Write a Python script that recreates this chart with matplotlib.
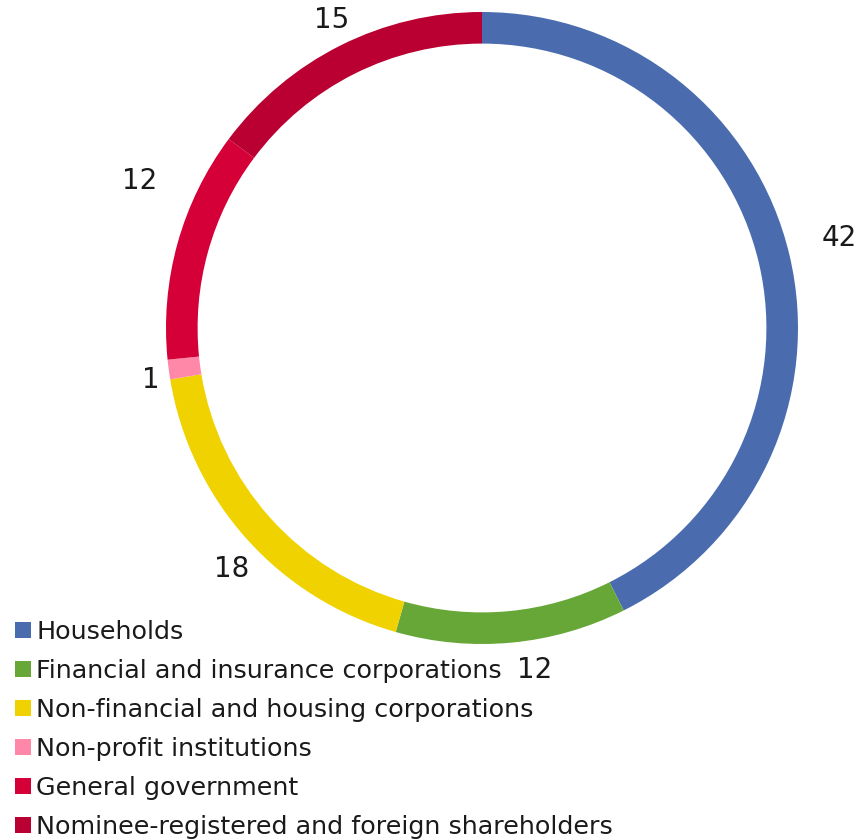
import numpy as np
import matplotlib
matplotlib.use('Agg')
import matplotlib.pyplot as plt
from matplotlib.lines import Line2D

plt.rcParams['font.family'] = ['DejaVu Sans']

# data
categories = ['Households',
              'Financial and insurance corporations',
              'Non-financial and housing corporations',
              'Non-profit institutions',
              'General government',
              'Nominee-registered and foreign shareholders']
shares = [42.6, 11.8, 18.0, 1.0, 11.8, 14.8]
value_labels = ['42', '12', '18', '1', '12', '15']
colors = ['#4A6CAF', '#67A738', '#EFD200', '#FF88A8', '#D50037', '#BA0032']

# label placement tweaks (radius factor, angle shift in degrees)
label_r = [1.165, 1.095, 1.10, 1.06, 1.18, 1.085]
label_shift = [0.8, 3.4, 2.2, 1.3, -7.8, -0.6]

W, H = 863, 840
fig = plt.figure(figsize=(W / 100, H / 100), dpi=100)

cx, cy, R = 482, H - 328, 316
ax = fig.add_axes([(cx - R) / W, (cy - R) / H, 2 * R / W, 2 * R / H])
wedges, _ = ax.pie(shares, colors=colors, startangle=90, counterclock=False,
                   radius=1, wedgeprops=dict(width=0.1, linewidth=0))
ax.set_xlim(-1, 1)
ax.set_ylim(-1, 1)
ax.set_aspect('equal')
ax.axis('off')

for w, t, r, s in zip(wedges, value_labels, label_r, label_shift):
    ang = np.deg2rad((w.theta1 + w.theta2) / 2 + s)
    ax.text(r * np.cos(ang), r * np.sin(ang), t, ha='center', va='center',
            fontsize=20, color='#1a1a1a', clip_on=False)

handles = [Line2D([], [], marker='s', linestyle='none', markersize=11,
                  markerfacecolor=c, markeredgewidth=0) for c in colors]
fig.legend(handles, categories, loc='upper left',
           bbox_to_anchor=(2 / W, (H - 607) / H), frameon=False,
           fontsize=18.3, labelspacing=0.59, handlelength=0.65,
           handletextpad=0.2, borderpad=0, labelcolor='#1a1a1a')

fig.savefig('out.png', dpi=100)
